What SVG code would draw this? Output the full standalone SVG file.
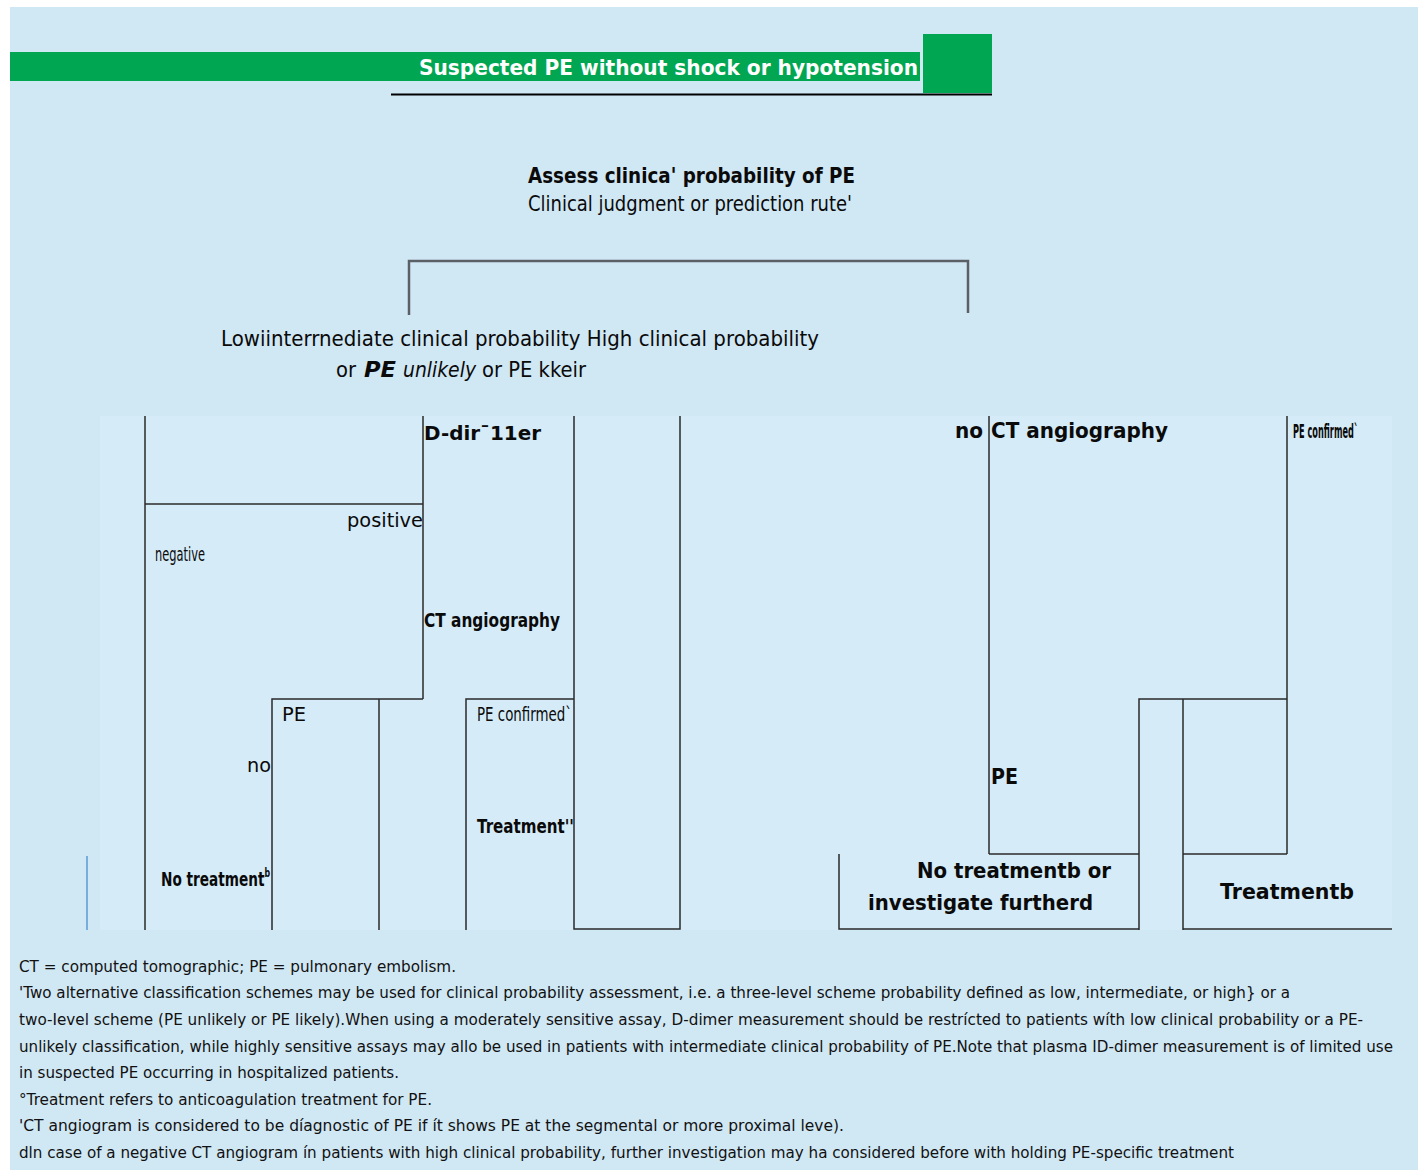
<svg xmlns="http://www.w3.org/2000/svg" width="1418" height="1170" viewBox="0 0 1418 1170">
<style>
text{font-family:"DejaVu Sans","Noto Sans",sans-serif;fill:#0a0a0a;}
.b{font-weight:bold;}
.n{font-size:20px;}
.fn{font-size:13.5px;fill:#111;}
.ln{stroke:#2a2a2a;stroke-width:1.5;fill:none;}
.br{stroke:#5a6066;stroke-width:2.5;fill:none;}
</style>
<rect x="0" y="0" width="1418" height="1170" fill="#ffffff"/>
<rect x="10" y="7" width="1408" height="1163" fill="#d0e7f4"/>
<rect x="100" y="416" width="1292" height="514" fill="#d5ebf8"/>
<g id="header">
<rect x="10" y="52" width="910" height="29" fill="#00a651"/>
<rect x="923" y="34" width="69" height="59" fill="#00a651"/>
<line x1="391" y1="94.5" x2="992" y2="94.5" stroke="#000" stroke-width="2"/>
<text x="419" y="75" class="b" font-size="21" style="fill:#fff" textLength="499" lengthAdjust="spacingAndGlyphs">Suspected PE without shock or hypotension</text>
</g>
<g id="connectors">
<polyline class="br" points="409,315 409,261 968,261 968,313"/>
<line class="ln" x1="145" y1="416" x2="145" y2="930"/>
<line class="ln" x1="145" y1="504" x2="423" y2="504"/>
<line class="ln" x1="423" y1="416" x2="423" y2="699"/>
<polyline class="ln" points="272,930 272,699 423,699"/>
<line class="ln" x1="379" y1="699" x2="379" y2="930"/>
<polyline class="ln" points="466,930 466,699 574,699"/>
<polyline class="ln" points="574,416 574,929 680,929 680,416"/>
<line x1="87" y1="856" x2="87" y2="930" stroke="#5b9bd5" stroke-width="1.5"/>
<line class="ln" x1="989" y1="416" x2="989" y2="854"/>
<line class="ln" x1="1287" y1="416" x2="1287" y2="854"/>
<polyline class="ln" points="989,854 1139,854"/>
<polyline class="ln" points="1139,930 1139,699 1287,699"/>
<polyline class="ln" points="1183,930 1183,699"/>
<line class="ln" x1="1183" y1="854" x2="1287" y2="854"/>
<polyline class="ln" points="839,854 839,929 1139,929"/>
<line class="ln" x1="1183" y1="929" x2="1392" y2="929"/>
</g>
<g id="node-assess">
<text x="528" y="183" class="b" font-size="21" textLength="327" lengthAdjust="spacingAndGlyphs">Assess clinica' probability of PE</text>
<text x="528" y="211" font-size="21" textLength="324" lengthAdjust="spacingAndGlyphs">Clinical judgment or prediction rute'</text>
</g>
<g id="node-probability">
<text x="221" y="346" font-size="21" textLength="598" lengthAdjust="spacingAndGlyphs">Lowiinterrnediate clinical probability High clinical probability</text>
<text x="336" y="377" font-size="21" textLength="20" lengthAdjust="spacingAndGlyphs">or</text>
<text x="364" y="377" font-size="22" class="b" font-style="italic" textLength="32" lengthAdjust="spacingAndGlyphs">PE</text>
<text x="403" y="377" font-size="21" font-style="italic" textLength="73" lengthAdjust="spacingAndGlyphs">unlikely</text>
<text x="482" y="377" font-size="21" textLength="104" lengthAdjust="spacingAndGlyphs">or PE kkeir</text>
</g>
<g id="node-ddimer">
<text x="424" y="440" class="b n" textLength="117" lengthAdjust="spacingAndGlyphs">D-dirˉ11er</text>
</g>
<g id="label-positive">
<text x="347" y="527" class="n" textLength="76" lengthAdjust="spacingAndGlyphs">positive</text>
</g>
<g id="label-negative">
<text x="155" y="561" font-size="19" textLength="50" lengthAdjust="spacingAndGlyphs">negative</text>
</g>
<g id="node-ct-left">
<text x="424" y="627" class="b n" textLength="136" lengthAdjust="spacingAndGlyphs">CT angiography</text>
</g>
<g id="label-pe-left">
<text x="282" y="721" class="n" textLength="24" lengthAdjust="spacingAndGlyphs">PE</text>
</g>
<g id="label-confirmed-left">
<text x="477" y="721" class="n" textLength="95" lengthAdjust="spacingAndGlyphs">PE confirmed`</text>
</g>
<g id="label-no-left">
<text x="247" y="772" class="n" textLength="24" lengthAdjust="spacingAndGlyphs">no</text>
</g>
<g id="node-treatment-left">
<text x="477" y="833" class="b n" textLength="97" lengthAdjust="spacingAndGlyphs">Treatment''</text>
</g>
<g id="node-notreatment-left">
<text x="161" y="886" class="b" font-size="14" textLength="109" lengthAdjust="spacingAndGlyphs" transform="translate(161 886) scale(1 1.43) translate(-161 -886)">No treatment<tspan font-size="8" dy="-6">b</tspan></text>
</g>
<g id="node-ct-right">
<text x="955" y="438" class="b" font-size="21" textLength="28" lengthAdjust="spacingAndGlyphs">no</text>
<text x="991" y="438" class="b" font-size="21" textLength="177" lengthAdjust="spacingAndGlyphs">CT angiography</text>
</g>
<g id="label-confirmed-right">
<text x="1293" y="438" class="b" font-size="13" textLength="65" lengthAdjust="spacingAndGlyphs" transform="translate(1293 438) scale(1 1.5) translate(-1293 -438)">PE confirmed`</text>
</g>
<g id="label-pe-right">
<text x="991" y="784" class="b" font-size="21" textLength="27" lengthAdjust="spacingAndGlyphs">PE</text>
</g>
<g id="node-notreatment-right">
<text x="917" y="878" class="b" font-size="21" textLength="194" lengthAdjust="spacingAndGlyphs">No treatmentb or</text>
<text x="868" y="910" class="b" font-size="21" textLength="225" lengthAdjust="spacingAndGlyphs">investigate furtherd</text>
</g>
<g id="node-treatment-right">
<text x="1220" y="899" class="b" font-size="21" textLength="134" lengthAdjust="spacingAndGlyphs">Treatmentb</text>
</g>
<g id="footnotes">
<text x="19" y="972" class="fn" textLength="437" lengthAdjust="spacingAndGlyphs" transform="translate(19 972) scale(1 1.15) translate(-19 -972)">CT = computed tomographic; PE = pulmonary embolism.</text>
<text x="19" y="998" class="fn" textLength="1271" lengthAdjust="spacingAndGlyphs" transform="translate(19 998) scale(1 1.15) translate(-19 -998)">'Two alternative classification schemes may be used for clinical probability assessment, i.e. a three-level scheme probability defined as low, intermediate, or high} or a</text>
<text x="19" y="1025" class="fn" textLength="1344" lengthAdjust="spacingAndGlyphs" transform="translate(19 1025) scale(1 1.15) translate(-19 -1025)">two-Ievel scheme (PE unlikely or PE likely).When using a moderately sensitive assay, D-dimer measurement should be restrícted to patients wíth low clinical probability or a PE-</text>
<text x="19" y="1052" class="fn" textLength="1374" lengthAdjust="spacingAndGlyphs" transform="translate(19 1052) scale(1 1.15) translate(-19 -1052)">unlikely classification, while highly sensitive assays may allo be used in patients with intermediate clinical probability of PE.Note that plasma ID-dimer measurement is of limited use</text>
<text x="19" y="1078" class="fn" textLength="380" lengthAdjust="spacingAndGlyphs" transform="translate(19 1078) scale(1 1.15) translate(-19 -1078)">in suspected PE occurring in hospitalized patients.</text>
<text x="19" y="1105" class="fn" textLength="413" lengthAdjust="spacingAndGlyphs" transform="translate(19 1105) scale(1 1.15) translate(-19 -1105)">°Treatment refers to anticoagulation treatment for PE.</text>
<text x="19" y="1131" class="fn" textLength="825" lengthAdjust="spacingAndGlyphs" transform="translate(19 1131) scale(1 1.15) translate(-19 -1131)">'CT angiogram is considered to be díagnostic of PE if ít shows PE at the segmental or more proximal leve).</text>
<text x="19" y="1158" class="fn" textLength="1215" lengthAdjust="spacingAndGlyphs" transform="translate(19 1158) scale(1 1.15) translate(-19 -1158)">dln case of a negative CT angiogram ín patients with high clinical probability, further investigation may ha considered before with holding PE-specific treatment</text>
</g>
</svg>
